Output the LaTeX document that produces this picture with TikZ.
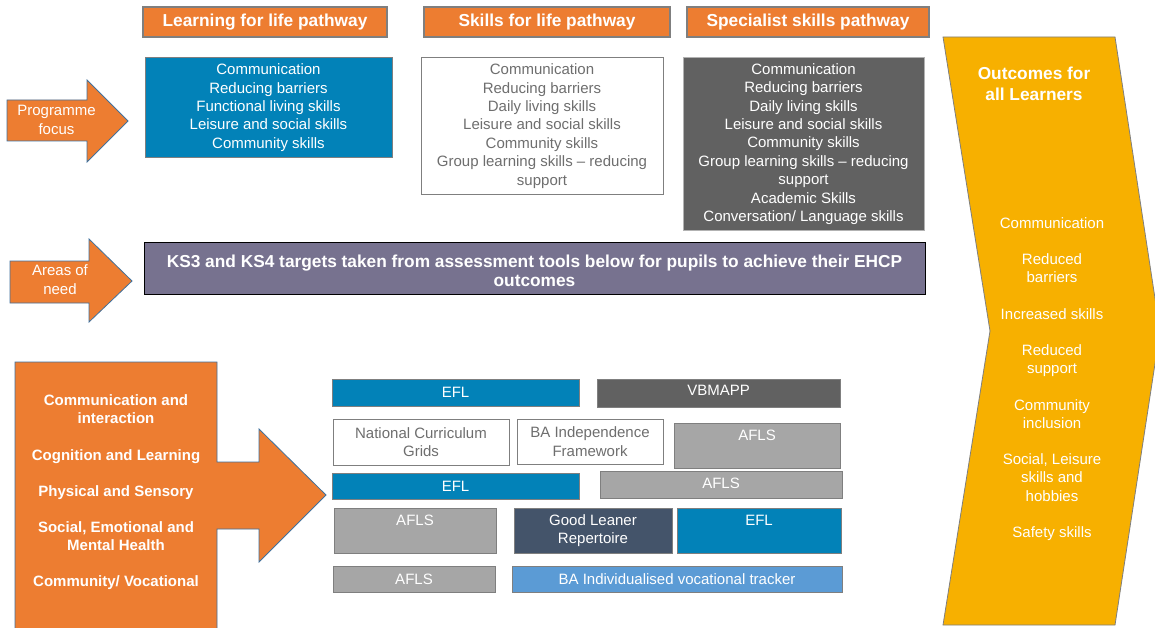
\documentclass[tikz,border=0pt]{standalone}
\usepackage{fontspec}
\setmainfont{Liberation Sans}
\newcommand\fsreg{\fontsize{15}{18.4}\selectfont}
\newcommand\fshead{\fontsize{17.3}{21}\selectfont\bfseries}
\newcommand\fsboldsm{\fontsize{15}{18.1}\selectfont\bfseries}
\definecolor{orng}{HTML}{ED7D31}
\definecolor{bluef}{HTML}{0282B8}
\definecolor{darkg}{HTML}{616161}
\definecolor{lightg}{HTML}{A6A6A6}
\definecolor{slate}{HTML}{44546A}
\definecolor{lblue}{HTML}{5B9BD5}
\definecolor{purp}{HTML}{77728F}
\definecolor{gold}{HTML}{F7B000}
\definecolor{edgeblue}{HTML}{41719C}
\definecolor{edgegray}{HTML}{7F7F7F}
\definecolor{txtgray}{HTML}{6E6E6E}
\begin{document}
\begin{tikzpicture}[x=1pt,y=-1pt,
  every node/.style={inner sep=0pt, font=\fsreg, align=center},
  sz/.style 2 args={minimum width=#1, minimum height=#2},
  hdr/.style={draw=edgegray, line width=1.2pt, fill=orng, text=white, font=\fshead},
  bluebox/.style={draw=edgegray, line width=0.8pt, fill=bluef, text=white},
  whitebox/.style={draw=edgegray, line width=0.8pt, fill=white, text=txtgray},
  darkbox/.style={draw=edgegray!60, line width=0.8pt, fill=darkg, text=white},
  greybox/.style={draw=edgegray, line width=0.8pt, fill=lightg, text=white},
  slatebox/.style={draw=edgegray, line width=0.8pt, fill=slate, text=white},
  lbluebox/.style={draw=edgegray, line width=0.8pt, fill=lblue, text=white},
  blockarrow/.style={draw=edgeblue, line width=0.8pt, fill=orng},
  topbase/.style 2 args={text height=#1, text depth=#2},
  arrowtext/.style={text=white}
]
\useasboundingbox (0,0) rectangle (1155,628);
\fill[white] (0,0) rectangle (1155,628);

% outcomes chevron
\path[draw=edgegray, fill=gold, line width=0.8pt]
  (943,37) -- (1115,37) -- (1160,331) -- (1115,625) -- (943,625) -- (990,331) -- cycle;
\node[text=white, font=\fshead, align=center, execute at begin node={\setlength{\baselineskip}{21pt}}] (otitle) at (1034,84) {Outcomes for\\all Learners};
\node[text=white, font=\fontsize{15}{18.2}\selectfont] (oitems) at (1052,379) {Communication\\[18.2pt]Reduced\\barriers\\[18.2pt]Increased skills\\[18.2pt]Reduced\\support\\[18.2pt]Community\\inclusion\\[18.2pt]Social, Leisure\\skills and\\hobbies\\[18.2pt]Safety skills};

% headers
\node[hdr, sz={244}{30}] (h1) at (265,22) {Learning for life pathway};
\node[hdr, sz={246}{30}] (h2) at (547,22) {Skills for life pathway};
\node[hdr, sz={242}{30}] (h3) at (808,22) {Specialist skills pathway};

% pathway content
\node[bluebox, sz={247}{100}, text depth=2pt] (b1) at (268.5,107) {Communication\\Reducing barriers\\Functional living skills\\Leisure and social skills\\Community skills};
\node[whitebox, sz={242}{137}, text depth=2pt] (b2) at (542,125.5) {Communication\\Reducing barriers\\Daily living skills\\Leisure and social skills\\Community skills\\Group learning skills -- reducing\\support};
\node[darkbox, sz={241}{173}, text depth=2pt] (b3) at (803.5,143.5) {Communication\\Reducing barriers\\Daily living skills\\Leisure and social skills\\Community skills\\Group learning skills -- reducing\\support\\Academic Skills\\Conversation/ Language skills};

% Programme focus arrow
\path[blockarrow] (7,100) -- (87,100) -- (87,80) -- (128,121) -- (87,162) -- (87,141) -- (7,141) -- cycle;
\node[arrowtext] (pf) at (56.5,120) {Programme\\focus};

% Areas of need arrow
\path[blockarrow] (10,261) -- (89,261) -- (89,239) -- (132,281) -- (89,322) -- (89,303) -- (10,303) -- cycle;
\node[arrowtext] (an) at (60,279.5) {Areas of\\need};

% KS3 box
\node[draw=black, line width=0.8pt, fill=purp, text=white, font=\fshead, sz={781}{52}, execute at begin node={\setlength{\baselineskip}{19pt}}] (ks) at (534.5,268) {\rule{0pt}{19pt}KS3 and KS4 targets taken from assessment tools below for pupils to achieve their EHCP\\outcomes};

% big left arrow
\path[blockarrow] (15,362) -- (217,362) -- (217,462) -- (259,462) -- (259,429) -- (326,495) -- (259,562) -- (259,529) -- (217,529) -- (217,640) -- (15,640) -- cycle;
\node[text=white, font=\fsboldsm] (needs) at (116,492.5) {Communication and\\interaction\\[18.1pt]Cognition and Learning\\[18.1pt]Physical and Sensory\\[18.1pt]Social, Emotional and\\Mental Health\\[18.1pt]Community/ Vocational};

% assessment tools grid
\node[bluebox, sz={247}{27}] (efla) at (455.5,392.5) {EFL};
\node[darkbox, draw=edgegray, sz={243}{28}, topbase={16.4pt}{11.6pt}] (vb) at (718.5,393) {VBMAPP};
\node[whitebox, sz={176}{46}] (ncg) at (421,442) {National Curriculum\\Grids};
\node[whitebox, sz={146}{45}] (bai) at (590,441.5) {BA Independence\\Framework};
\node[greybox, sz={166}{45}, topbase={17.4pt}{27.6pt}] (afa) at (757,445.5) {AFLS};
\node[bluebox, sz={247}{26}] (eflb) at (455.5,486) {EFL};
\node[greybox, sz={242}{27}, topbase={17.4pt}{9.6pt}] (afb) at (721,484.5) {AFLS};
\node[greybox, sz={162}{45}, topbase={17.4pt}{27.6pt}] (afc) at (415,530.5) {AFLS};
\node[slatebox, sz={158}{45}] (glr) at (593,530.5) {Good Leaner\\Repertoire};
\node[bluebox, sz={164}{45}, topbase={17.4pt}{27.6pt}] (eflc) at (759,530.5) {EFL};
\node[greybox, sz={162}{26}] (afd) at (414,579) {AFLS};
\node[lbluebox, sz={330}{26}] (bat) at (677,579) {BA Individualised vocational tracker};
\end{tikzpicture}
\end{document}
